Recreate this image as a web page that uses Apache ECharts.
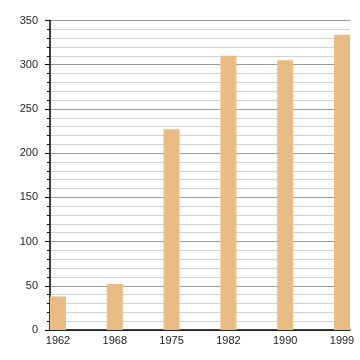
<!DOCTYPE html>
<html>
<head>
<meta charset="utf-8">
<script src="https://cdn.jsdelivr.net/npm/echarts@6/dist/echarts.min.js"></script>
<style>
  html, body { margin: 0; padding: 0; background: #fff; }
  #chart { width: 360px; height: 360px; }
</style>
</head>
<body>
<div id="chart"></div>
<script>
// data
const years = ['1962', '1968', '1975', '1982', '1990', '1999']
const values = [38, 52, 227, 310, 305, 334]
const yMax = 350
const yStep = 50

const font = 'Liberation Sans, Arial, sans-serif'
const chart = echarts.init(document.getElementById('chart'))

chart.setOption({
  animation: false,
  // grid 0 carries the frame (y axis + grid lines), grid 1 the bars and year labels
  grid: [
    { left: 50, right: 10, top: 20.5, bottom: 30 },
    { left: 58, right: 18, top: 20.5, bottom: 30 }
  ],
  xAxis: [
    {
      gridIndex: 0,
      type: 'value',
      min: 0,
      max: 1,
      axisLine: { lineStyle: { color: '#000', width: 1.5 } },
      axisTick: { show: false },
      axisLabel: { show: false },
      splitLine: { show: false }
    },
    {
      gridIndex: 1,
      type: 'category',
      data: years,
      boundaryGap: false,
      axisLine: { show: false },
      axisTick: { show: false },
      axisLabel: { color: '#222', fontSize: 11, fontFamily: font, margin: 5 }
    }
  ],
  yAxis: [
    {
      gridIndex: 0,
      type: 'value',
      min: 0,
      max: yMax,
      interval: yStep,
      axisLine: { show: true, lineStyle: { color: '#000', width: 1.5 } },
      axisTick: { show: true, length: 5, lineStyle: { color: '#000' } },
      minorTick: { show: true, splitNumber: 5, length: 3, lineStyle: { color: '#000' } },
      axisLabel: { color: '#222', fontSize: 11, fontFamily: font, margin: 12 },
      splitLine: { show: true, lineStyle: { color: '#999', width: 1 } },
      minorSplitLine: { show: true, lineStyle: { color: '#d0d0d0', width: 1 } }
    },
    {
      gridIndex: 1,
      type: 'value',
      min: 0,
      max: yMax,
      show: false
    }
  ],
  series: [
    {
      type: 'bar',
      xAxisIndex: 1,
      yAxisIndex: 1,
      data: values,
      barWidth: 16,
      itemStyle: { color: '#E8BC82' }
    }
  ]
})
</script>
</body>
</html>
